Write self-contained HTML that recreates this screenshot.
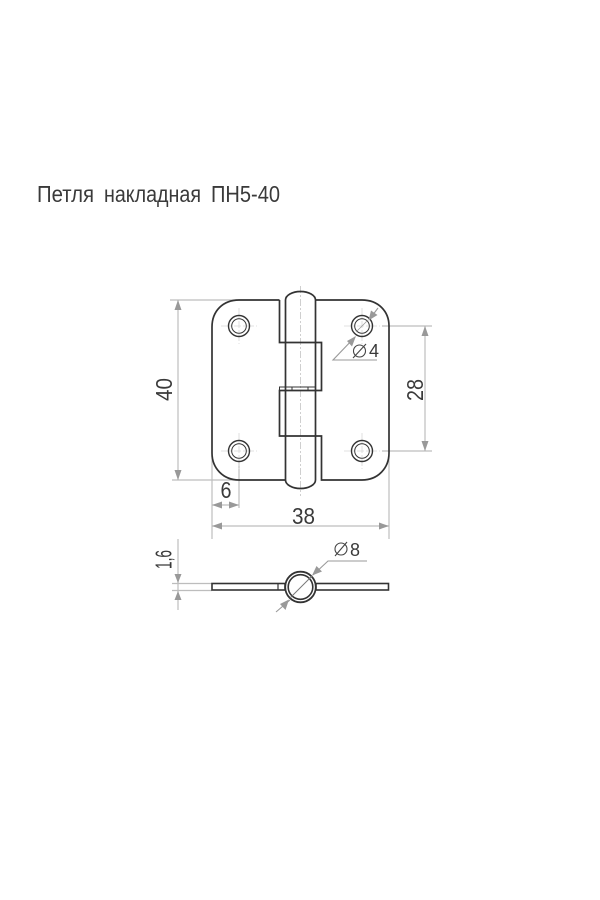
<!DOCTYPE html>
<html><head><meta charset="utf-8"><style>
html,body{margin:0;padding:0;background:#fff;width:600px;height:900px;overflow:hidden}
svg{display:block}
text{font-family:"Liberation Sans",sans-serif;fill:#3a3a3a}
</style></head><body>
<svg width="600" height="900" viewBox="0 0 600 900" xmlns="http://www.w3.org/2000/svg">
<g font-size="23">
<text x="37" y="202" textLength="57" lengthAdjust="spacingAndGlyphs">Петля</text>
<text x="104" y="202" textLength="97" lengthAdjust="spacingAndGlyphs">накладная</text>
<text x="211" y="202" textLength="69" lengthAdjust="spacingAndGlyphs">ПН5-40</text>
</g>

<!-- dimension lines -->
<g stroke="#bdbdbd" stroke-width="1.200" fill="none">
<path d="M170 300H240M178 300V480M172 480H240"/>
<path d="M212 456V539M389 456V539M239 462V508M212 526H389M212 505H239"/>
<path d="M382 326H432M382 451H432M425 326V451"/>
<path d="M172 583.500H212M172 590.500H212M178 539V610"/>
</g>

<!-- centre lines -->
<g stroke="#d8d8d8" stroke-width=".8" fill="none" stroke-dasharray="7 2 2 2">
<path d="M300.500 286V496" stroke="#c4c4c4"/>
<path d="M221 326H257M239 308V344M344 326H380M362 308V344M221 451H257M239 433V469M344 451H380M362 433V469"/>
</g>

<!-- main outline -->
<g stroke="#333" stroke-width="1.700" fill="none">
<path d="M279.500 300V342.500H321.500V390.500H279.500V436H321.500V480H362C378 480 389 468 389 453V326C389 311 378 300 362 300H315.500"/>
<path d="M279.500 300H239C223 300 212 311 212 327V453C212 468 223 480 239 480H285.500"/>
<path d="M285.500 480V300A15 8.500 0 0 1 315.500 300V480A15 8.500 0 0 1 285.500 480Z"/>
<path d="M279.500 390.500V387H315.500M292 387V390.500M308 387V390.500" stroke-width="1"/>
</g>

<!-- holes -->
<g stroke="#333" fill="none">
<circle cx="239" cy="326" r="10.500" stroke-width="1.400"/><circle cx="239" cy="326" r="7.300" stroke-width="1"/>
<circle cx="362" cy="326" r="10.500" stroke-width="1.400"/><circle cx="362" cy="326" r="7.300" stroke-width="1"/>
<circle cx="239" cy="451" r="10.500" stroke-width="1.400"/><circle cx="239" cy="451" r="7.300" stroke-width="1"/>
<circle cx="362" cy="451" r="10.500" stroke-width="1.400"/><circle cx="362" cy="451" r="7.300" stroke-width="1"/>
</g>
<path d="M356 332L368 320" stroke="#999" stroke-width=".8" fill="none"/>

<!-- leaders -->
<g stroke="#9a9a9a" stroke-width="1.100" fill="none">
<path d="M377 360H333L355 337M369 320L378 308"/>
<path d="M367 561H328L313 575M276 612L290 600"/>
</g>

<!-- arrowheads -->
<g fill="#999" stroke="none">
<path d="M178 300L174.500 310H181.500ZM178 480L174.500 470H181.500Z"/>
<path d="M425 326L421.500 336H428.500ZM425 451L421.500 441H428.500Z"/>
<path d="M212 505L222 501.500V508.500ZM239 505L229 501.500V508.500Z"/>
<path d="M212 526L222 522.500V529.500ZM389 526L379 522.500V529.500Z"/>
<path d="M178 583L174.500 574H181.500ZM178 591L174.500 600H181.500Z"/>
<path d="M356 336L347 341L352 346.500ZM368.500 320.500L371 310.500L377.500 315Z"/>
<path d="M312 575.500L316.500 566L322 571.500ZM289 599.500L280 604L285.500 610Z"/>
</g>

<!-- section -->
<g stroke="#333" fill="none">
<rect x="212" y="583.500" width="73" height="6.500" stroke-width="1.600"/>
<rect x="316" y="583.500" width="72.500" height="6.500" stroke-width="1.600"/>
<path d="M278 583.500V590" stroke-width="1.200"/>
<circle cx="300.500" cy="587" r="15.300" fill="#fff" stroke-width="1.800"/>
<circle cx="300.500" cy="587" r="12.300" stroke-width="1.600"/>
</g>
<path d="M290 598L312 576" stroke="#777" stroke-width="1" fill="none"/>

<!-- labels -->
<g font-size="23">
<text transform="translate(172 401) rotate(-90)" textLength="23" lengthAdjust="spacingAndGlyphs">40</text>
<text transform="translate(423 401) rotate(-90)" textLength="22" lengthAdjust="spacingAndGlyphs">28</text>
<text x="220.500" y="498" textLength="11" lengthAdjust="spacingAndGlyphs">6</text>
<text x="292" y="524" textLength="23" lengthAdjust="spacingAndGlyphs">38</text>
<text x="369" y="357" font-size="18" textLength="10" lengthAdjust="spacingAndGlyphs">4</text>
<text x="350" y="556" font-size="18" textLength="10" lengthAdjust="spacingAndGlyphs">8</text>
<text transform="translate(171.500 569) rotate(-90)" textLength="19" lengthAdjust="spacingAndGlyphs">1,6</text>
</g>
<g stroke="#444" stroke-width="1.100" fill="none">
<circle cx="359.500" cy="351" r="6"/><path d="M353 358L366 344"/>
<circle cx="341" cy="549" r="6"/><path d="M335 556L347 542"/>
</g>
</svg>
</body></html>
